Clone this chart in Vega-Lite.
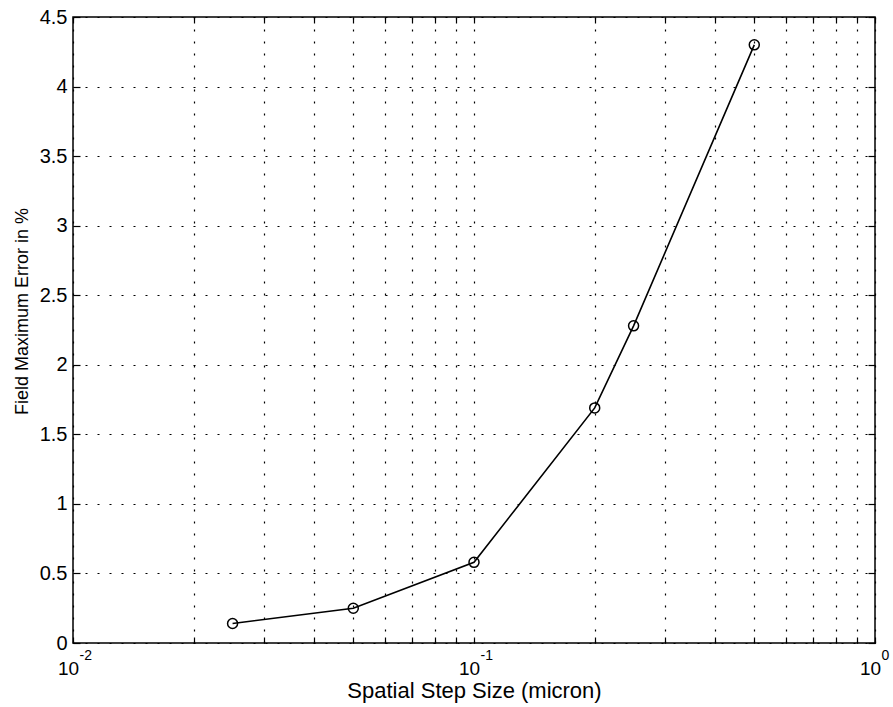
{
  "$schema": "https://vega.github.io/schema/vega-lite/v6.json",
  "autosize": "none",
  "width": 802,
  "height": 626,
  "padding": {"left": 73, "top": 17, "right": 18, "bottom": 64},
  "background": "white",
  "config": {
    "font": "Liberation Sans",
    "view": {"stroke": "black", "strokeWidth": 1.5},
    "axis": {
      "labelFont": "Liberation Sans",
      "titleFont": "Liberation Sans",
      "labelColor": "black",
      "titleColor": "black",
      "labelFontSize": 20,
      "titleFontSize": 21,
      "titleFontWeight": "normal",
      "labelFlush": false,
      "labelOverlap": false,
      "tickColor": "black",
      "domain": false,
      "grid": true,
      "gridColor": "black",
      "gridOpacity": 1,
      "gridWidth": 1.2,
      "gridDash": [2, 10]
    }
  },
  "data": {
    "values": [
      {"step": 0.025, "error": 0.14},
      {"step": 0.05, "error": 0.25},
      {"step": 0.1, "error": 0.58},
      {"step": 0.2, "error": 1.69},
      {"step": 0.25, "error": 2.28},
      {"step": 0.5, "error": 4.3}
    ]
  },
  "layer": [
    {
      "mark": {"type": "line", "color": "black", "strokeWidth": 1.6},
      "encoding": {
        "x": {
          "field": "step",
          "type": "quantitative",
          "scale": {"type": "log", "domain": [0.01, 1], "nice": false},
          "axis": {
            "values": [0.01, 0.02, 0.03, 0.04, 0.05, 0.06, 0.07, 0.08, 0.09, 0.1, 0.2, 0.3, 0.4, 0.5, 0.6, 0.7, 0.8, 0.9, 1],
            "labelExpr": "datum.value == 0.01 || datum.value == 0.1 || datum.value == 1 ? '10' : ''",
            "labelFontSize": 19,
            "tickSize": -6,
            "tickWidth": 1.2,
            "labelPadding": 22,
            "labelOffset": -5,
            "title": "Spatial Step Size (micron)",
            "titleFontSize": 22,
            "titlePadding": 2
          }
        },
        "y": {
          "field": "error",
          "type": "quantitative",
          "scale": {"domain": [0, 4.5], "nice": false, "zero": true},
          "axis": {
            "values": [0, 0.5, 1, 1.5, 2, 2.5, 3, 3.5, 4, 4.5],
            "labelExpr": "'' + datum.value",
            "tickSize": -7,
            "tickWidth": 1.2,
            "labelPadding": 13,
            "title": "Field Maximum Error in %",
            "titleFontSize": 18,
            "titlePadding": 8,
            "titleY": 294
          }
        }
      }
    },
    {
      "mark": {"type": "point", "shape": "circle", "filled": false, "color": "black", "size": 100, "strokeWidth": 1.5, "opacity": 1},
      "encoding": {
        "x": {"field": "step", "type": "quantitative", "axis": null},
        "y": {"field": "error", "type": "quantitative", "axis": null}
      }
    },
    {
      "mark": {"type": "line", "opacity": 0},
      "encoding": {
        "x": {
          "field": "step",
          "type": "quantitative",
          "axis": {
            "orient": "top",
            "values": [0.01, 0.02, 0.03, 0.04, 0.05, 0.06, 0.07, 0.08, 0.09, 0.1, 0.2, 0.3, 0.4, 0.5, 0.6, 0.7, 0.8, 0.9, 1],
            "labels": false,
            "grid": false,
            "tickSize": -6,
            "tickWidth": 1.2,
            "title": null
          }
        },
        "y": {
          "field": "error",
          "type": "quantitative",
          "axis": {
            "orient": "right",
            "values": [0, 0.5, 1, 1.5, 2, 2.5, 3, 3.5, 4, 4.5],
            "labels": false,
            "grid": false,
            "tickSize": -7,
            "tickWidth": 1.2,
            "title": null
          }
        }
      }
    },
    {
      "mark": {"type": "line", "opacity": 0},
      "encoding": {
        "x": {
          "field": "step",
          "type": "quantitative",
          "axis": {
            "orient": "bottom",
            "values": [0.01, 0.1, 1],
            "labelExpr": "datum.value == 0.01 ? '-2' : datum.value == 0.1 ? '-1' : '0'",
            "labelFontSize": 14,
            "labelPadding": 5,
            "labelOffset": 6,
            "labelAlign": "left",
            "ticks": false,
            "grid": false,
            "title": null
          }
        },
        "y": {"field": "error", "type": "quantitative", "axis": null}
      }
    }
  ],
  "resolve": {"axis": {"x": "independent", "y": "independent"}}
}
